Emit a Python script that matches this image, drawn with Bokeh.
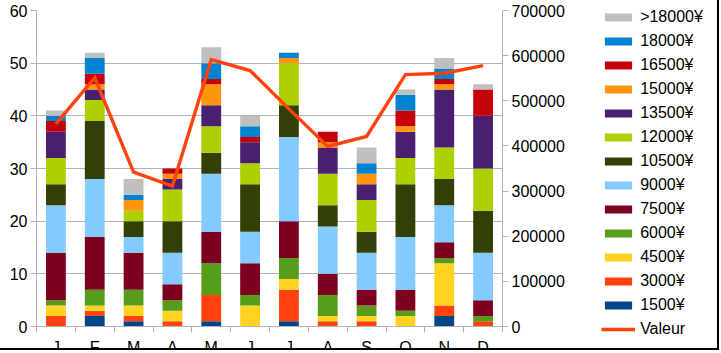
from bokeh.plotting import figure
from bokeh.models import (ColumnDataSource, Range1d, LinearAxis, FixedTicker,
                          Legend, LegendItem, NumeralTickFormatter)
from bokeh.embed import file_html
from bokeh.resources import INLINE

months = ["J", "F", "M", "A", "M", "J", "J", "A", "S", "O", "N", "D"]
series_names = ["1500¥", "3000¥", "4500¥", "6000¥", "7500¥", "9000¥", "10500¥",
                "12000¥", "13500¥", "15000¥", "16500¥", "18000¥", ">18000¥"]
colors = ["#004586", "#ff420e", "#ffd320", "#579d1c", "#7e0021", "#83caff", "#314004",
          "#aecf00", "#4b1f6f", "#ff950e", "#c5000b", "#0084d1", "#bfbfbf"]

# counts per month, one list per price bracket (Jan..Dec)
s1500  = [0, 2, 1, 0, 1, 0, 1, 0, 0, 0, 2, 0]
s3000  = [2, 1, 1, 1, 5, 0, 6, 1, 1, 0, 2, 1]
s4500  = [2, 1, 2, 2, 0, 4, 2, 1, 1, 2, 8, 0]
s6000  = [1, 3, 3, 2, 6, 2, 4, 4, 2, 1, 1, 1]
s7500  = [9, 10, 7, 3, 6, 6, 7, 4, 3, 4, 3, 3]
s9000  = [9, 11, 3, 6, 11, 6, 16, 9, 7, 10, 7, 9]
s10500 = [4, 11, 3, 6, 4, 9, 6, 4, 4, 10, 5, 8]
s12000 = [5, 4, 2, 6, 5, 4, 8, 6, 6, 5, 6, 8]
s13500 = [5, 2, 0, 2, 4, 4, 0, 5, 3, 5, 11, 10]
s15000 = [0, 1, 2, 1, 4, 0, 1, 1, 2, 1, 1, 0]
s16500 = [2, 2, 0, 1, 1, 1, 0, 2, 0, 3, 1, 5]
s18000 = [1, 3, 1, 0, 3, 2, 1, 0, 2, 3, 2, 0]
s_over = [1, 1, 3, 0, 3, 2, 0, 0, 3, 1, 2, 1]

valeur = [449000, 551000, 342000, 311000, 591000, 567000, 482000, 399000,
          421000, 558000, 561000, 578000]

series = [s1500, s3000, s4500, s6000, s7500, s9000, s10500, s12000, s13500,
          s15000, s16500, s18000, s_over]
keys = ["k%d" % i for i in range(len(series))]

xs = [i + 0.5 for i in range(len(months))]
data = {"x": xs, "valeur": valeur}
for k, s in zip(keys, series):
    data[k] = s
src = ColumnDataSource(data)

FONT = "Liberation Sans"
GRID = "#b3b3b3"

p = figure(frame_width=466, frame_height=316, output_backend="svg", toolbar_location=None,
           x_range=Range1d(0, 12), y_range=Range1d(0, 60),
           min_border_left=36, min_border_top=10, min_border_bottom=0,
           min_border_right=217,
           stylesheets=[":host { height: 350px !important; width: 719px !important; "
                        "overflow: hidden; border-right: 2px solid #000; "
                        "border-bottom: 2px solid #000; }"])
p.outline_line_color = None
p.background_fill_color = "white"
p.border_fill_color = "white"

p.extra_y_ranges = {"val": Range1d(0, 700000)}

bars = p.vbar_stack(keys, x="x", width=0.51, color=colors, source=src, line_color=None)
line = p.line("x", "valeur", source=src, y_range_name="val", line_color="#ff420e",
              line_width=3.4, line_join="miter")

# x axis
xa = p.xaxis[0]
xa.ticker = FixedTicker(ticks=xs, minor_ticks=list(range(0, 13)))
xa.major_label_overrides = {x: m for x, m in zip(xs, months)}
xa.major_tick_out = 0
xa.major_tick_in = 0
xa.minor_tick_out = 6
xa.minor_tick_in = 0
xa.minor_tick_line_color = GRID
xa.axis_line_color = GRID
xa.major_label_standoff = 6
xa.major_label_text_font = FONT
xa.major_label_text_font_size = "16px"
xa.major_label_text_color = "#000000"

# left y axis
ya = p.yaxis[0]
ya.ticker = FixedTicker(ticks=list(range(0, 61, 10)))
ya.axis_line_color = GRID
ya.major_tick_line_color = GRID
ya.major_tick_out = 6
ya.major_tick_in = 0
ya.minor_tick_line_color = None
ya.major_label_standoff = 3
ya.major_label_text_font = FONT
ya.major_label_text_font_size = "16px"
ya.major_label_text_color = "#000000"

# right y axis
ra = LinearAxis(y_range_name="val")
ra.ticker = FixedTicker(ticks=list(range(0, 700001, 100000)))
ra.formatter = NumeralTickFormatter(format="0")
ra.axis_line_color = GRID
ra.major_tick_line_color = GRID
ra.major_tick_out = 6
ra.major_tick_in = 0
ra.minor_tick_line_color = None
ra.major_label_standoff = 3
ra.major_label_text_font = FONT
ra.major_label_text_font_size = "16px"
ra.major_label_text_color = "#000000"
p.add_layout(ra, "right")

p.xgrid.grid_line_color = None
p.ygrid.grid_line_color = GRID
p.ygrid.ticker = FixedTicker(ticks=list(range(0, 61, 10)))

items = [LegendItem(label=n, renderers=[r]) for n, r in zip(series_names, bars)]
items = items[::-1] + [LegendItem(label="Valeur", renderers=[line])]
legend = Legend(items=items, glyph_width=34, glyph_height=10, label_height=19,
                spacing=5, label_standoff=5, label_text_font=FONT,
                label_text_font_size="16px", label_text_color="#000000",
                border_line_color=None, padding=0, margin=0,
                location=(9, -12), background_fill_alpha=0)
p.add_layout(legend, "right")

open("out.html", "w").write(file_html(p, INLINE))
